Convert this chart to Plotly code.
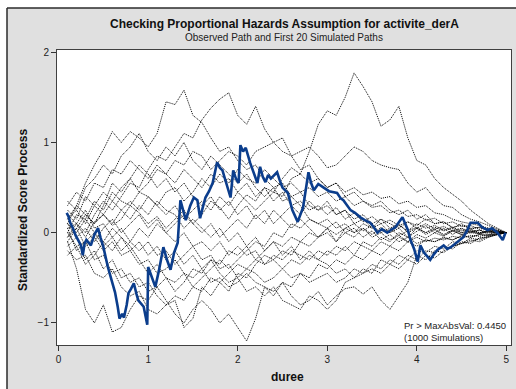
import plotly.graph_objects as go

# Event-time grid shared by the simulated score paths
duree_grid = [0.1, 0.2, 0.3, 0.4, 0.5, 0.6, 0.7, 0.8, 0.9, 1.0,
              1.1, 1.2, 1.3, 1.4, 1.5, 1.6, 1.7, 1.8, 1.9, 2.0,
              2.1, 2.2, 2.3, 2.4, 2.5, 2.6, 2.7, 2.8, 2.9, 3.0,
              3.1, 3.2, 3.3, 3.4, 3.5, 3.6, 3.7, 3.8, 3.9, 4.0,
              4.1, 4.2, 4.3, 4.4, 4.5, 4.6, 4.7, 4.8, 4.9, 5.0]

# First 20 simulated standardized score paths
sim_01 = [0.05, 0.1, -0.05, 0.12, 0.2, 0.08, 0.15, 0.3, 0.22, 0.1,
          0.18, 0.05, 0.15, 0.25, 0.1, 0.2, 0.35, 0.28, 0.15, 0.3,
          0.42, 0.35, 0.5, 0.45, 0.6, 0.72, 0.65, 0.9, 1.2, 1.35,
          1.3, 1.5, 1.77, 1.62, 1.45, 1.18, 1.25, 1.4, 1.05, 0.8,
          0.75, 0.6, 0.5, 0.42, 0.35, 0.25, 0.18, 0.1, 0.05, 0.0]
sim_02 = [0.1, 0.3, 0.55, 0.75, 0.92, 1.12, 1.0, 1.12, 1.05, 0.95,
          1.1, 1.45, 1.42, 1.58, 1.3, 1.22, 1.05, 0.9, 0.95, 0.8,
          0.7, 0.75, 0.6, 0.5, 0.55, 0.4, 0.45, 0.3, 0.25, 0.35,
          0.2, 0.25, 0.1, 0.15, 0.05, 0.1, 0.0, 0.05, -0.05, 0.02,
          0.08, 0.0, 0.05, -0.02, 0.04, 0.0, 0.03, -0.02, 0.01, 0.0]
sim_03 = [-0.05, 0.1, 0.0, 0.2, 0.35, 0.25, 0.4, 0.55, 0.5, 0.7,
          0.85, 0.8, 0.95, 1.1, 1.05, 1.25, 1.38, 1.48, 1.55, 1.3,
          1.2, 1.4, 1.15, 1.0, 0.9, 0.85, 0.7, 0.75, 0.6, 0.5,
          0.55, 0.4, 0.45, 0.35, 0.3, 0.35, 0.25, 0.2, 0.25, 0.15,
          0.2, 0.1, 0.12, 0.05, 0.1, 0.04, 0.06, 0.02, 0.03, 0.0]
sim_04 = [0.15, 0.25, 0.1, 0.3, 0.45, 0.35, 0.5, 0.6, 0.45, 0.55,
          0.7, 0.65, 0.8, 0.75, 0.9, 0.85, 0.7, 0.8, 0.9, 0.85,
          0.75, 0.9, 0.95, 1.0, 1.05, 0.85, 0.9, 0.95, 0.85, 0.72,
          0.75, 0.85, 0.95, 0.9, 0.8, 0.75, 0.72, 0.7, 0.55, 0.45,
          0.5, 0.38, 0.3, 0.28, 0.2, 0.15, 0.12, 0.08, 0.04, 0.0]
sim_05 = [-0.1, -0.4, -0.85, -1.0, -0.8, -1.1, -1.05, -0.85, -0.7, -0.75,
          -0.6, -0.5, -0.65, -0.55, -0.4, -0.45, -0.3, -0.35, -0.2, -0.25,
          -0.15, -0.3, -0.2, -0.1, -0.15, -0.05, -0.1, 0.0, -0.05, 0.05,
          -0.02, 0.05, 0.1, 0.02, 0.08, 0.0, 0.05, -0.03, 0.02, 0.06,
          0.0, 0.04, -0.02, 0.03, 0.0, 0.02, -0.01, 0.01, 0.0, 0.0]
sim_06 = [0.0, -0.15, -0.1, -0.3, -0.25, -0.45, -0.4, -0.55, -0.5, -0.65,
          -0.6, -0.75, -0.9, -1.0, -0.85, -0.75, -0.85, -1.0, -0.9, -1.05,
          -1.2, -0.95, -0.6, -0.7, -0.55, -0.6, -0.45, -0.5, -0.35, -0.4,
          -0.3, -0.35, -0.25, -0.3, -0.2, -0.25, -0.15, -0.2, -0.1, -0.15,
          -0.08, -0.1, -0.05, -0.08, -0.03, -0.05, -0.02, -0.03, -0.01, 0.0]
sim_07 = [-0.1, 0.05, -0.15, -0.05, -0.2, -0.1, -0.25, -0.2, -0.35, -0.3,
          -0.45, -0.4, -0.3, -0.45, -0.5, -0.4, -0.55, -0.5, -0.6, -0.55,
          -0.45, -0.55, -0.6, -0.65, -0.55, -0.7, -0.8, -0.75, -0.65, -0.8,
          -0.7, -0.62, -0.6, -0.68, -0.6, -0.75, -0.85, -0.7, -0.55, -0.25,
          -0.3, -0.2, -0.22, -0.15, -0.12, -0.08, -0.1, -0.05, -0.02, 0.0]
sim_08 = [0.2, 0.1, 0.25, 0.05, 0.1, -0.05, 0.05, -0.1, -0.2, -0.1,
          -0.25, -0.2, -0.35, -0.25, -0.15, -0.3, -0.25, -0.4, -0.35, -0.5,
          -0.4, -0.45, -0.55, -0.5, -0.4, -0.5, -0.45, -0.55, -0.5, -0.45,
          -0.55, -0.5, -0.4, -0.45, -0.35, -0.4, -0.3, -0.35, -0.25, -0.3,
          -0.2, -0.22, -0.15, -0.18, -0.1, -0.12, -0.06, -0.05, -0.02, 0.0]
sim_09 = [-0.2, -0.3, -0.25, -0.45, -0.5, -0.4, -0.6, -0.7, -0.65, -0.85,
          -0.9, -0.8, -0.7, -0.75, -0.6, -0.65, -0.5, -0.55, -0.45, -0.35,
          -0.4, -0.3, -0.35, -0.25, -0.3, -0.2, -0.25, -0.3, -0.2, -0.25,
          -0.15, -0.2, -0.1, -0.15, -0.2, -0.1, -0.15, -0.05, -0.1, -0.02,
          -0.06, 0.0, -0.04, 0.02, -0.02, 0.01, -0.01, 0.02, 0.0, 0.0]
sim_10 = [-0.15, -0.05, -0.3, -0.2, -0.4, -0.3, -0.5, -0.45, -0.6, -0.55,
          -0.7, -0.8, -0.75, -1.05, -0.95, -0.6, -0.7, -0.55, -0.65, -0.45,
          -0.5, -0.35, -0.25, -0.3, -0.2, -0.25, -0.1, -0.15, -0.05, 0.0,
          -0.1, 0.05, 0.0, 0.1, 0.05, 0.15, 0.1, 0.05, 0.12, 0.08,
          0.15, 0.1, 0.12, 0.06, 0.08, 0.05, 0.06, 0.03, 0.02, 0.0]
sim_11 = [0.3, 0.45, 0.35, 0.55, 0.5, 0.7, 0.65, 0.8, 0.7, 0.6,
          0.75, 0.65, 0.55, 0.7, 0.6, 0.5, 0.65, 0.55, 0.6, 0.45,
          0.55, 0.4, 0.5, 0.35, 0.45, 0.3, 0.35, 0.25, 0.3, 0.2,
          0.28, 0.15, 0.22, 0.12, 0.18, 0.1, 0.14, 0.08, 0.12, 0.05,
          0.1, 0.04, 0.07, 0.02, 0.05, 0.01, 0.03, 0.0, 0.01, 0.0]
sim_12 = [0.0, 0.2, 0.15, 0.35, 0.25, 0.45, 0.35, 0.3, 0.45, 0.4,
          0.3, 0.45, 0.5, 0.35, 0.45, 0.6, 0.5, 0.65, 0.55, 0.7,
          0.6, 0.55, 0.7, 0.6, 0.5, 0.55, 0.45, 0.5, 0.4, 0.45,
          0.35, 0.4, 0.3, 0.35, 0.28, 0.3, 0.22, 0.25, 0.18, 0.2,
          0.14, 0.16, 0.1, 0.12, 0.07, 0.08, 0.04, 0.05, 0.02, 0.0]
sim_13 = [-0.05, 0.05, 0.2, 0.1, 0.3, 0.55, 0.45, 0.6, 0.75, 0.65,
          0.5, 0.6, 0.45, 0.55, 0.4, 0.3, 0.4, 0.25, 0.35, 0.2,
          0.3, 0.15, 0.25, 0.1, 0.2, 0.3, 0.2, 0.35, 0.25, 0.3,
          0.2, 0.25, 0.15, 0.2, 0.1, 0.15, 0.05, 0.1, 0.0, 0.05,
          -0.02, 0.03, -0.03, 0.02, -0.02, 0.0, -0.01, 0.01, 0.0, 0.0]
sim_14 = [0.1, -0.05, 0.05, -0.1, 0.05, 0.15, 0.0, 0.1, 0.2, 0.05,
          0.15, 0.0, 0.1, 0.2, 0.1, 0.0, 0.1, -0.05, 0.05, 0.15,
          0.05, 0.2, 0.1, 0.25, 0.15, 0.05, 0.15, 0.05, -0.05, 0.05,
          -0.1, 0.0, -0.05, 0.05, -0.02, 0.06, 0.0, 0.08, 0.02, 0.1,
          0.05, 0.08, 0.03, 0.06, 0.02, 0.04, 0.0, 0.02, 0.01, 0.0]
sim_15 = [0.25, 0.15, 0.4, 0.3, 0.2, 0.35, 0.25, 0.15, 0.3, 0.2,
          0.35, 0.25, 0.2, 0.05, 0.15, 0.05, -0.05, 0.05, -0.1, 0.0,
          -0.15, -0.05, -0.2, -0.1, -0.25, -0.15, -0.3, -0.2, -0.3, -0.2,
          -0.25, -0.15, -0.25, -0.1, -0.15, -0.05, -0.1, 0.0, -0.05, 0.05,
          0.0, 0.06, 0.02, 0.05, 0.0, 0.03, 0.0, 0.02, 0.0, 0.0]
sim_16 = [0.05, -0.2, -0.1, 0.0, -0.15, -0.05, -0.2, -0.1, 0.05, -0.05,
          0.1, 0.0, -0.1, 0.0, -0.15, -0.1, -0.2, -0.1, -0.25, -0.15,
          -0.25, -0.2, -0.35, -0.3, -0.4, -0.3, -0.35, -0.25, -0.3, -0.35,
          -0.45, -0.4, -0.5, -0.45, -0.4, -0.45, -0.35, -0.4, -0.3, -0.35,
          -0.25, -0.28, -0.2, -0.15, -0.12, -0.1, -0.06, -0.04, -0.02, 0.0]
sim_17 = [0.15, 0.3, 0.2, 0.1, 0.2, 0.1, 0.25, 0.35, 0.25, 0.4,
          0.3, 0.2, 0.3, 0.15, 0.25, 0.35, 0.25, 0.4, 0.3, 0.45,
          0.35, 0.25, 0.35, 0.45, 0.4, 0.6, 0.65, 0.55, 0.6, 0.5,
          0.55, 0.45, 0.5, 0.42, 0.45, 0.38, 0.4, 0.32, 0.35, 0.28,
          0.3, 0.22, 0.2, 0.15, 0.12, 0.1, 0.08, 0.05, 0.02, 0.0]
sim_18 = [0.35, 0.25, 0.5, 0.6, 0.75, 0.65, 0.85, 0.95, 1.1, 0.9,
          0.8, 0.95, 0.85, 1.0, 0.8, 0.7, 0.85, 0.75, 0.65, 0.55,
          0.65, 0.5, 0.4, 0.5, 0.35, 0.4, 0.3, 0.15, 0.1, 0.15,
          0.05, 0.1, 0.0, 0.05, -0.05, 0.0, -0.08, -0.03, -0.1, -0.05,
          -0.1, -0.06, -0.08, -0.04, -0.06, -0.03, -0.04, -0.02, -0.01, 0.0]
sim_19 = [-0.25, -0.15, -0.35, -0.25, -0.1, -0.2, -0.05, -0.15, -0.3, -0.45,
          -0.35, -0.5, -0.55, -0.45, -0.6, -0.5, -0.4, -0.3, -0.4, -0.3,
          -0.2, -0.1, -0.15, 0.0, -0.05, 0.1, 0.05, 0.15, 0.1, 0.05,
          0.12, 0.0, 0.05, -0.05, 0.02, -0.08, -0.02, -0.1, -0.05, -0.12,
          -0.08, -0.1, -0.06, -0.08, -0.04, -0.05, -0.02, -0.03, -0.01, 0.0]
sim_20 = [0.1, 0.0, 0.15, 0.0, -0.1, 0.05, -0.05, -0.2, -0.1, -0.25,
          -0.15, -0.3, -0.2, -0.35, -0.25, -0.4, -0.3, -0.45, -0.55, -0.5,
          -0.65, -0.6, -0.7, -0.6, -0.75, -0.8, -0.85, -0.7, -0.75, -0.85,
          -0.75, -0.55, -0.5, -0.4, -0.45, -0.3, -0.35, -0.25, -0.3, -0.2,
          -0.22, -0.15, -0.18, -0.1, -0.12, -0.06, -0.08, -0.04, -0.02, 0.0]

simulated_paths = [sim_01, sim_02, sim_03, sim_04, sim_05, sim_06, sim_07,
                   sim_08, sim_09, sim_10, sim_11, sim_12, sim_13, sim_14,
                   sim_15, sim_16, sim_17, sim_18, sim_19, sim_20]

# Observed standardized score process for activite_derA
obs_duree = [0.09, 0.11, 0.13, 0.16, 0.19, 0.22, 0.25, 0.27, 0.29, 0.31,
             0.34, 0.36, 0.40, 0.44, 0.47, 0.50, 0.55, 0.60, 0.63, 0.66,
             0.68, 0.71, 0.73, 0.76, 0.78, 0.81, 0.84, 0.87, 0.89, 0.95,
             0.99, 1.00, 1.04, 1.08, 1.12, 1.17, 1.21, 1.25, 1.29, 1.33,
             1.36, 1.39, 1.42, 1.47, 1.51, 1.55, 1.58, 1.61, 1.64, 1.68,
             1.72, 1.77, 1.80, 1.83, 1.88, 1.92, 1.95, 1.98, 2.01, 2.03,
             2.06, 2.09, 2.14, 2.18, 2.22, 2.25, 2.28, 2.31, 2.34, 2.37,
             2.44, 2.47, 2.50, 2.56, 2.61, 2.67, 2.70, 2.73, 2.79, 2.82,
             2.85, 2.90, 2.96, 3.02, 3.11, 3.15, 3.18, 3.22, 3.26, 3.31,
             3.37, 3.42, 3.48, 3.52, 3.56, 3.61, 3.67, 3.71, 3.76, 3.84,
             3.90, 3.93, 3.97, 4.01, 4.04, 4.08, 4.12, 4.15, 4.19, 4.23,
             4.30, 4.34, 4.38, 4.45, 4.52, 4.56, 4.60, 4.68, 4.73, 4.79,
             4.84, 4.90, 4.96, 4.99]
obs_score = [0.22, 0.18, 0.11, 0.05, -0.03, -0.08, -0.14, -0.25, -0.12, -0.08,
             -0.12, -0.14, -0.02, 0.05, -0.06, -0.16, -0.38, -0.56, -0.66, -0.82,
             -0.95, -0.90, -0.94, -0.80, -0.67, -0.62, -0.56, -0.68, -0.75, -0.82,
             -1.02, -0.38, -0.48, -0.60, -0.42, -0.16, -0.30, -0.41, -0.22, -0.11,
             0.36, 0.24, 0.14, 0.30, 0.39, 0.36, 0.16, 0.28, 0.39, 0.46,
             0.55, 0.78, 0.72, 0.69, 0.52, 0.39, 0.69, 0.60, 0.55, 0.97,
             0.90, 0.94, 0.77, 0.66, 0.55, 0.73, 0.62, 0.56, 0.64, 0.60,
             0.67, 0.58, 0.50, 0.44, 0.25, 0.12, 0.20, 0.28, 0.67, 0.55,
             0.47, 0.54, 0.50, 0.46, 0.44, 0.38, 0.36, 0.30, 0.25, 0.22,
             0.17, 0.14, 0.11, 0.06, 0.00, 0.04, 0.00, 0.03, 0.06, 0.17,
             0.03, -0.08, -0.18, -0.32, -0.14, -0.22, -0.27, -0.30, -0.24, -0.19,
             -0.14, -0.18, -0.16, -0.11, -0.05, 0.02, 0.11, 0.11, 0.06, 0.03,
             0.05, 0.00, -0.08, 0.00]

x_ticks = [0, 1, 2, 3, 4, 5]
y_ticks = [-1, 0, 1, 2]

pvalue_text = "Pr > MaxAbsVal: 0.4450"
nsim_text = "(1000 Simulations)"

fig = go.Figure()

for path in simulated_paths:
    fig.add_trace(go.Scatter(
        x=duree_grid, y=path, mode="lines",
        line=dict(color="black", width=1, dash="1px,1px"),
        hoverinfo="skip", showlegend=False))

fig.add_trace(go.Scatter(
    x=obs_duree, y=obs_score, mode="lines",
    line=dict(color="#0b3d8c", width=2.6),
    showlegend=False))

W, H = 516, 389
ml, mr, mt, mb = 57, 5, 50, 44
pw, ph = W - ml - mr, H - mt - mb


def px_x(px):
    return (px - ml) / pw


def px_y(py):
    return (H - mb - py) / ph


font_family = "Liberation Sans, Arial, sans-serif"
frame_col = "#2b2b2b"

fig.update_layout(
    width=W, height=H,
    margin=dict(l=ml, r=mr, t=mt, b=mb),
    paper_bgcolor="#e0e0e0",
    plot_bgcolor="white",
    font=dict(family=font_family, size=10, color="#222222"),
    showlegend=False,
    xaxis=dict(
        range=[-0.018, 5.052], tickvals=x_ticks, ticks="outside", ticklen=5,
        tickcolor="#333333", showgrid=False, zeroline=False, showline=True,
        linecolor="#404040", linewidth=1, mirror=True,
        tickfont=dict(size=10, color="#222222"),
    ),
    yaxis=dict(
        range=[-1.244, 2.024], tickvals=y_ticks, ticks="outside", ticklen=5,
        tickcolor="#333333", showgrid=False, zeroline=False, showline=True,
        linecolor="#404040", linewidth=1, mirror=True,
        tickfont=dict(size=10, color="#222222"),
    ),
    shapes=[
        # white surround outside the outer frame
        dict(type="rect", xref="paper", yref="paper", x0=-0.3, x1=px_x(7),
             y0=-0.3, y1=1.3, fillcolor="white", line=dict(width=0)),
        dict(type="rect", xref="paper", yref="paper", x0=-0.3, x1=1.3,
             y0=px_y(8), y1=1.3, fillcolor="white", line=dict(width=0)),
        # outer frame lines
        dict(type="line", xref="paper", yref="paper", x0=px_x(7), x1=px_x(7),
             y0=-0.3, y1=px_y(8), line=dict(color=frame_col, width=1.5)),
        dict(type="line", xref="paper", yref="paper", x0=px_x(7), x1=1.3,
             y0=px_y(8), y1=px_y(8), line=dict(color=frame_col, width=1.5)),
    ],
    annotations=[
        dict(text="<b>Checking Proportional Hazards Assumption for activite_derA</b>",
             xref="paper", yref="paper", x=0.5, y=px_y(24), showarrow=False,
             xanchor="center", yanchor="middle",
             font=dict(size=12, color="#111111")),
        dict(text="Observed Path and First 20 Simulated Paths",
             xref="paper", yref="paper", x=0.5, y=px_y(37), showarrow=False,
             xanchor="center", yanchor="middle",
             font=dict(size=10, color="#222222")),
        dict(text="<b>duree</b>", xref="paper", yref="paper", x=px_x(287),
             y=px_y(377), showarrow=False, xanchor="center", yanchor="middle",
             font=dict(size=12, color="#111111")),
        dict(text="<b>Standardized Score Process</b>", xref="paper",
             yref="paper", x=px_x(23), y=px_y(210), textangle=-90,
             showarrow=False, xanchor="center", yanchor="middle",
             font=dict(size=12, color="#111111")),
        dict(text=pvalue_text, xref="paper", yref="paper", x=px_x(402),
             y=px_y(325), showarrow=False, xanchor="left", yanchor="middle",
             font=dict(size=9.5, color="#222222")),
        dict(text=nsim_text, xref="paper", yref="paper", x=px_x(402),
             y=px_y(337), showarrow=False, xanchor="left", yanchor="middle",
             font=dict(size=9.5, color="#222222")),
    ],
)

fig.write_html("out.html")
